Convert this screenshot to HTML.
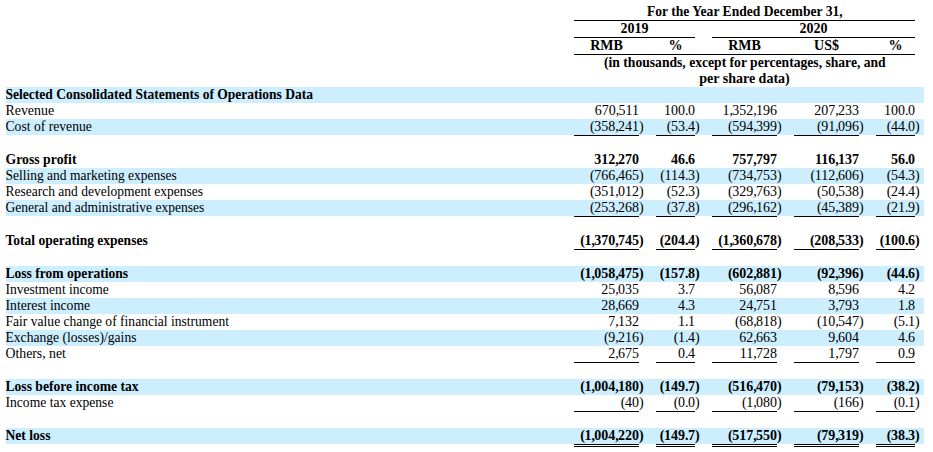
<!DOCTYPE html>
<html><head><meta charset="utf-8"><style>
html,body{margin:0;padding:0;background:#fff;}
body{width:933px;height:452px;position:relative;overflow:hidden;font-family:"Liberation Serif",serif;font-size:14px;color:#000;}
.r{position:absolute;left:6px;width:918px;height:16px;background:#cceeff;}
.t{position:absolute;height:16px;line-height:16px;white-space:nowrap;}
.n{text-align:right;}
.bd{font-weight:bold;}
.u{position:absolute;height:1px;background:#000;}
.d{position:absolute;height:1px;border-top:1px solid #000;border-bottom:1px solid #000;}
.c{text-align:center;}
.s{display:inline-block;transform-origin:0 0}
.m{letter-spacing:-0.75px}
.q{letter-spacing:-0.5px}
.o{letter-spacing:-0.5px}
</style></head><body>

<div class="t c bd" style="top:4px;left:574px;width:341px"><span class="s" style="transform:scaleX(0.9700);transform-origin:50% 0">For the Year Ended December 31,</span></div>
<div class="u" style="top:20px;left:574px;width:341px"></div>
<div class="t c bd" style="top:21px;left:574px;width:121px">2019</div>
<div class="t c bd" style="top:21px;left:712px;width:203px">2020</div>
<div class="u" style="top:37px;left:574px;width:121px"></div>
<div class="u" style="top:37px;left:712px;width:203px"></div>
<div class="t c bd" style="top:38px;left:574px;width:65px">RMB</div>
<div class="t c bd" style="top:38px;left:656px;width:39px">%</div>
<div class="t c bd" style="top:38px;left:712px;width:65px">RMB</div>
<div class="t c bd" style="top:38px;left:794px;width:65px">US$</div>
<div class="t c bd" style="top:38px;left:876px;width:39px">%</div>
<div class="u" style="top:54px;left:574px;width:341px"></div>
<div class="t c bd" style="top:55px;left:574px;width:341px"><span class="s" style="transform:scaleX(0.9720);transform-origin:50% 0">(in thousands, except for percentages, share, and</span></div>
<div class="t c bd" style="top:71px;left:574px;width:341px">per share data)</div>
<div class="r" style="top:87px"></div>
<div class="t bd" style="top:87px;left:5px"><span class="s" style="transform:translateX(0.5px) scaleX(0.9657)">Selected Consolidated Statements of Operations Data</span></div>
<div class="t" style="top:103px;left:5px"><span class="s" style="transform:translateX(0.5px) scaleX(0.9909)">Revenue</span></div>
<div class="t n" style="top:103px;left:534px;width:105px">670<span class="m">,</span>511</div>
<div class="t n" style="top:103px;left:616px;width:79px">100<span class="q">.</span>0</div>
<div class="t n" style="top:103px;left:672px;width:105px">1<span class="m">,</span>352<span class="m">,</span>196</div>
<div class="t n" style="top:103px;left:754px;width:105px">207<span class="m">,</span>233</div>
<div class="t n" style="top:103px;left:836px;width:79px">100<span class="q">.</span>0</div>
<div class="r" style="top:119px"></div>
<div class="t" style="top:119px;left:5px"><span class="s" style="transform:translateX(0.5px) scaleX(0.9737)">Cost of revenue</span></div>
<div class="t n" style="top:119px;left:534px;width:105px"><span class="o">(</span>358<span class="m">,</span>241</div>
<div class="t" style="top:119px;left:639px">)</div>
<div class="u" style="top:135px;left:574px;width:65px"></div>
<div class="t n" style="top:119px;left:616px;width:79px"><span class="o">(</span>53<span class="q">.</span>4</div>
<div class="t" style="top:119px;left:695px">)</div>
<div class="u" style="top:135px;left:656px;width:39px"></div>
<div class="t n" style="top:119px;left:672px;width:105px"><span class="o">(</span>594<span class="m">,</span>399</div>
<div class="t" style="top:119px;left:777px">)</div>
<div class="u" style="top:135px;left:712px;width:65px"></div>
<div class="t n" style="top:119px;left:754px;width:105px"><span class="o">(</span>91<span class="m">,</span>096</div>
<div class="t" style="top:119px;left:859px">)</div>
<div class="u" style="top:135px;left:794px;width:65px"></div>
<div class="t n" style="top:119px;left:836px;width:79px"><span class="o">(</span>44<span class="q">.</span>0</div>
<div class="t" style="top:119px;left:915px">)</div>
<div class="u" style="top:135px;left:876px;width:39px"></div>
<div class="t bd" style="top:152px;left:5px"><span class="s" style="transform:translateX(0.5px) scaleX(0.9833)">Gross profit</span></div>
<div class="t n bd" style="top:152px;left:534px;width:105px">312<span class="m">,</span>270</div>
<div class="t n bd" style="top:152px;left:616px;width:79px">46<span class="q">.</span>6</div>
<div class="t n bd" style="top:152px;left:672px;width:105px">757<span class="m">,</span>797</div>
<div class="t n bd" style="top:152px;left:754px;width:105px">116<span class="m">,</span>137</div>
<div class="t n bd" style="top:152px;left:836px;width:79px">56<span class="q">.</span>0</div>
<div class="r" style="top:168px"></div>
<div class="t" style="top:168px;left:5px"><span class="s" style="transform:translateX(0.5px) scaleX(0.9637)">Selling and marketing expenses</span></div>
<div class="t n" style="top:168px;left:534px;width:105px"><span class="o">(</span>766<span class="m">,</span>465</div>
<div class="t" style="top:168px;left:639px">)</div>
<div class="t n" style="top:168px;left:616px;width:79px"><span class="o">(</span>114<span class="q">.</span>3</div>
<div class="t" style="top:168px;left:695px">)</div>
<div class="t n" style="top:168px;left:672px;width:105px"><span class="o">(</span>734<span class="m">,</span>753</div>
<div class="t" style="top:168px;left:777px">)</div>
<div class="t n" style="top:168px;left:754px;width:105px"><span class="o">(</span>112<span class="m">,</span>606</div>
<div class="t" style="top:168px;left:859px">)</div>
<div class="t n" style="top:168px;left:836px;width:79px"><span class="o">(</span>54<span class="q">.</span>3</div>
<div class="t" style="top:168px;left:915px">)</div>
<div class="t" style="top:184px;left:5px"><span class="s" style="transform:translateX(0.5px) scaleX(0.9646)">Research and development expenses</span></div>
<div class="t n" style="top:184px;left:534px;width:105px"><span class="o">(</span>351<span class="m">,</span>012</div>
<div class="t" style="top:184px;left:639px">)</div>
<div class="t n" style="top:184px;left:616px;width:79px"><span class="o">(</span>52<span class="q">.</span>3</div>
<div class="t" style="top:184px;left:695px">)</div>
<div class="t n" style="top:184px;left:672px;width:105px"><span class="o">(</span>329<span class="m">,</span>763</div>
<div class="t" style="top:184px;left:777px">)</div>
<div class="t n" style="top:184px;left:754px;width:105px"><span class="o">(</span>50<span class="m">,</span>538</div>
<div class="t" style="top:184px;left:859px">)</div>
<div class="t n" style="top:184px;left:836px;width:79px"><span class="o">(</span>24<span class="q">.</span>4</div>
<div class="t" style="top:184px;left:915px">)</div>
<div class="r" style="top:200px"></div>
<div class="t" style="top:200px;left:5px"><span class="s" style="transform:translateX(0.5px) scaleX(0.9668)">General and administrative expenses</span></div>
<div class="t n" style="top:200px;left:534px;width:105px"><span class="o">(</span>253<span class="m">,</span>268</div>
<div class="t" style="top:200px;left:639px">)</div>
<div class="u" style="top:216px;left:574px;width:65px"></div>
<div class="t n" style="top:200px;left:616px;width:79px"><span class="o">(</span>37<span class="q">.</span>8</div>
<div class="t" style="top:200px;left:695px">)</div>
<div class="u" style="top:216px;left:656px;width:39px"></div>
<div class="t n" style="top:200px;left:672px;width:105px"><span class="o">(</span>296<span class="m">,</span>162</div>
<div class="t" style="top:200px;left:777px">)</div>
<div class="u" style="top:216px;left:712px;width:65px"></div>
<div class="t n" style="top:200px;left:754px;width:105px"><span class="o">(</span>45<span class="m">,</span>389</div>
<div class="t" style="top:200px;left:859px">)</div>
<div class="u" style="top:216px;left:794px;width:65px"></div>
<div class="t n" style="top:200px;left:836px;width:79px"><span class="o">(</span>21<span class="q">.</span>9</div>
<div class="t" style="top:200px;left:915px">)</div>
<div class="u" style="top:216px;left:876px;width:39px"></div>
<div class="t bd" style="top:233px;left:5px"><span class="s" style="transform:translateX(0.5px) scaleX(0.9652)">Total operating expenses</span></div>
<div class="t n bd" style="top:233px;left:534px;width:105px"><span class="o">(</span>1<span class="m">,</span>370<span class="m">,</span>745</div>
<div class="t bd" style="top:233px;left:639px">)</div>
<div class="u" style="top:249px;left:574px;width:65px"></div>
<div class="t n bd" style="top:233px;left:616px;width:79px"><span class="o">(</span>204<span class="q">.</span>4</div>
<div class="t bd" style="top:233px;left:695px">)</div>
<div class="u" style="top:249px;left:656px;width:39px"></div>
<div class="t n bd" style="top:233px;left:672px;width:105px"><span class="o">(</span>1<span class="m">,</span>360<span class="m">,</span>678</div>
<div class="t bd" style="top:233px;left:777px">)</div>
<div class="u" style="top:249px;left:712px;width:65px"></div>
<div class="t n bd" style="top:233px;left:754px;width:105px"><span class="o">(</span>208<span class="m">,</span>533</div>
<div class="t bd" style="top:233px;left:859px">)</div>
<div class="u" style="top:249px;left:794px;width:65px"></div>
<div class="t n bd" style="top:233px;left:836px;width:79px"><span class="o">(</span>100<span class="q">.</span>6</div>
<div class="t bd" style="top:233px;left:915px">)</div>
<div class="u" style="top:249px;left:876px;width:39px"></div>
<div class="r" style="top:266px"></div>
<div class="t bd" style="top:266px;left:5px"><span class="s" style="transform:translateX(0.5px) scaleX(0.9689)">Loss from operations</span></div>
<div class="t n bd" style="top:266px;left:534px;width:105px"><span class="o">(</span>1<span class="m">,</span>058<span class="m">,</span>475</div>
<div class="t bd" style="top:266px;left:639px">)</div>
<div class="t n bd" style="top:266px;left:616px;width:79px"><span class="o">(</span>157<span class="q">.</span>8</div>
<div class="t bd" style="top:266px;left:695px">)</div>
<div class="t n bd" style="top:266px;left:672px;width:105px"><span class="o">(</span>602<span class="m">,</span>881</div>
<div class="t bd" style="top:266px;left:777px">)</div>
<div class="t n bd" style="top:266px;left:754px;width:105px"><span class="o">(</span>92<span class="m">,</span>396</div>
<div class="t bd" style="top:266px;left:859px">)</div>
<div class="t n bd" style="top:266px;left:836px;width:79px"><span class="o">(</span>44<span class="q">.</span>6</div>
<div class="t bd" style="top:266px;left:915px">)</div>
<div class="t" style="top:282px;left:5px"><span class="s" style="transform:translateX(0.5px) scaleX(0.9668)">Investment income</span></div>
<div class="t n" style="top:282px;left:534px;width:105px">25<span class="m">,</span>035</div>
<div class="t n" style="top:282px;left:616px;width:79px">3<span class="q">.</span>7</div>
<div class="t n" style="top:282px;left:672px;width:105px">56<span class="m">,</span>087</div>
<div class="t n" style="top:282px;left:754px;width:105px">8<span class="m">,</span>596</div>
<div class="t n" style="top:282px;left:836px;width:79px">4<span class="q">.</span>2</div>
<div class="r" style="top:298px"></div>
<div class="t" style="top:298px;left:5px"><span class="s" style="transform:translateX(0.5px) scaleX(0.9766)">Interest income</span></div>
<div class="t n" style="top:298px;left:534px;width:105px">28<span class="m">,</span>669</div>
<div class="t n" style="top:298px;left:616px;width:79px">4<span class="q">.</span>3</div>
<div class="t n" style="top:298px;left:672px;width:105px">24<span class="m">,</span>751</div>
<div class="t n" style="top:298px;left:754px;width:105px">3<span class="m">,</span>793</div>
<div class="t n" style="top:298px;left:836px;width:79px">1<span class="q">.</span>8</div>
<div class="t" style="top:314px;left:5px"><span class="s" style="transform:translateX(0.5px) scaleX(0.9695)">Fair value change of financial instrument</span></div>
<div class="t n" style="top:314px;left:534px;width:105px">7<span class="m">,</span>132</div>
<div class="t n" style="top:314px;left:616px;width:79px">1<span class="q">.</span>1</div>
<div class="t n" style="top:314px;left:672px;width:105px"><span class="o">(</span>68<span class="m">,</span>818</div>
<div class="t" style="top:314px;left:777px">)</div>
<div class="t n" style="top:314px;left:754px;width:105px"><span class="o">(</span>10<span class="m">,</span>547</div>
<div class="t" style="top:314px;left:859px">)</div>
<div class="t n" style="top:314px;left:836px;width:79px"><span class="o">(</span>5<span class="q">.</span>1</div>
<div class="t" style="top:314px;left:915px">)</div>
<div class="r" style="top:330px"></div>
<div class="t" style="top:330px;left:5px"><span class="s" style="transform:translateX(0.5px) scaleX(0.9708)">Exchange (losses)/gains</span></div>
<div class="t n" style="top:330px;left:534px;width:105px"><span class="o">(</span>9<span class="m">,</span>216</div>
<div class="t" style="top:330px;left:639px">)</div>
<div class="t n" style="top:330px;left:616px;width:79px"><span class="o">(</span>1<span class="q">.</span>4</div>
<div class="t" style="top:330px;left:695px">)</div>
<div class="t n" style="top:330px;left:672px;width:105px">62<span class="m">,</span>663</div>
<div class="t n" style="top:330px;left:754px;width:105px">9<span class="m">,</span>604</div>
<div class="t n" style="top:330px;left:836px;width:79px">4<span class="q">.</span>6</div>
<div class="t" style="top:346px;left:5px"><span class="s" style="transform:translateX(0.5px) scaleX(0.9835)">Others, net</span></div>
<div class="t n" style="top:346px;left:534px;width:105px">2<span class="m">,</span>675</div>
<div class="u" style="top:362px;left:574px;width:65px"></div>
<div class="t n" style="top:346px;left:616px;width:79px">0<span class="q">.</span>4</div>
<div class="u" style="top:362px;left:656px;width:39px"></div>
<div class="t n" style="top:346px;left:672px;width:105px">11<span class="m">,</span>728</div>
<div class="u" style="top:362px;left:712px;width:65px"></div>
<div class="t n" style="top:346px;left:754px;width:105px">1<span class="m">,</span>797</div>
<div class="u" style="top:362px;left:794px;width:65px"></div>
<div class="t n" style="top:346px;left:836px;width:79px">0<span class="q">.</span>9</div>
<div class="u" style="top:362px;left:876px;width:39px"></div>
<div class="r" style="top:379px"></div>
<div class="t bd" style="top:379px;left:5px"><span class="s" style="transform:translateX(0.5px) scaleX(0.9715)">Loss before income tax</span></div>
<div class="t n bd" style="top:379px;left:534px;width:105px"><span class="o">(</span>1<span class="m">,</span>004<span class="m">,</span>180</div>
<div class="t bd" style="top:379px;left:639px">)</div>
<div class="t n bd" style="top:379px;left:616px;width:79px"><span class="o">(</span>149<span class="q">.</span>7</div>
<div class="t bd" style="top:379px;left:695px">)</div>
<div class="t n bd" style="top:379px;left:672px;width:105px"><span class="o">(</span>516<span class="m">,</span>470</div>
<div class="t bd" style="top:379px;left:777px">)</div>
<div class="t n bd" style="top:379px;left:754px;width:105px"><span class="o">(</span>79<span class="m">,</span>153</div>
<div class="t bd" style="top:379px;left:859px">)</div>
<div class="t n bd" style="top:379px;left:836px;width:79px"><span class="o">(</span>38<span class="q">.</span>2</div>
<div class="t bd" style="top:379px;left:915px">)</div>
<div class="t" style="top:395px;left:5px"><span class="s" style="transform:translateX(0.5px) scaleX(0.9709)">Income tax expense</span></div>
<div class="t n" style="top:395px;left:534px;width:105px"><span class="o">(</span>40</div>
<div class="t" style="top:395px;left:639px">)</div>
<div class="u" style="top:411px;left:574px;width:65px"></div>
<div class="t n" style="top:395px;left:616px;width:79px"><span class="o">(</span>0<span class="q">.</span>0</div>
<div class="t" style="top:395px;left:695px">)</div>
<div class="u" style="top:411px;left:656px;width:39px"></div>
<div class="t n" style="top:395px;left:672px;width:105px"><span class="o">(</span>1<span class="m">,</span>080</div>
<div class="t" style="top:395px;left:777px">)</div>
<div class="u" style="top:411px;left:712px;width:65px"></div>
<div class="t n" style="top:395px;left:754px;width:105px"><span class="o">(</span>166</div>
<div class="t" style="top:395px;left:859px">)</div>
<div class="u" style="top:411px;left:794px;width:65px"></div>
<div class="t n" style="top:395px;left:836px;width:79px"><span class="o">(</span>0<span class="q">.</span>1</div>
<div class="t" style="top:395px;left:915px">)</div>
<div class="u" style="top:411px;left:876px;width:39px"></div>
<div class="r" style="top:428px"></div>
<div class="t bd" style="top:428px;left:5px"><span class="s" style="transform:translateX(0.5px) scaleX(0.9714)">Net loss</span></div>
<div class="t n bd" style="top:428px;left:534px;width:105px"><span class="o">(</span>1<span class="m">,</span>004<span class="m">,</span>220</div>
<div class="t bd" style="top:428px;left:639px">)</div>
<div class="d" style="top:444px;left:574px;width:65px"></div>
<div class="t n bd" style="top:428px;left:616px;width:79px"><span class="o">(</span>149<span class="q">.</span>7</div>
<div class="t bd" style="top:428px;left:695px">)</div>
<div class="d" style="top:444px;left:656px;width:39px"></div>
<div class="t n bd" style="top:428px;left:672px;width:105px"><span class="o">(</span>517<span class="m">,</span>550</div>
<div class="t bd" style="top:428px;left:777px">)</div>
<div class="d" style="top:444px;left:712px;width:65px"></div>
<div class="t n bd" style="top:428px;left:754px;width:105px"><span class="o">(</span>79<span class="m">,</span>319</div>
<div class="t bd" style="top:428px;left:859px">)</div>
<div class="d" style="top:444px;left:794px;width:65px"></div>
<div class="t n bd" style="top:428px;left:836px;width:79px"><span class="o">(</span>38<span class="q">.</span>3</div>
<div class="t bd" style="top:428px;left:915px">)</div>
<div class="d" style="top:444px;left:876px;width:39px"></div>
</body></html>
